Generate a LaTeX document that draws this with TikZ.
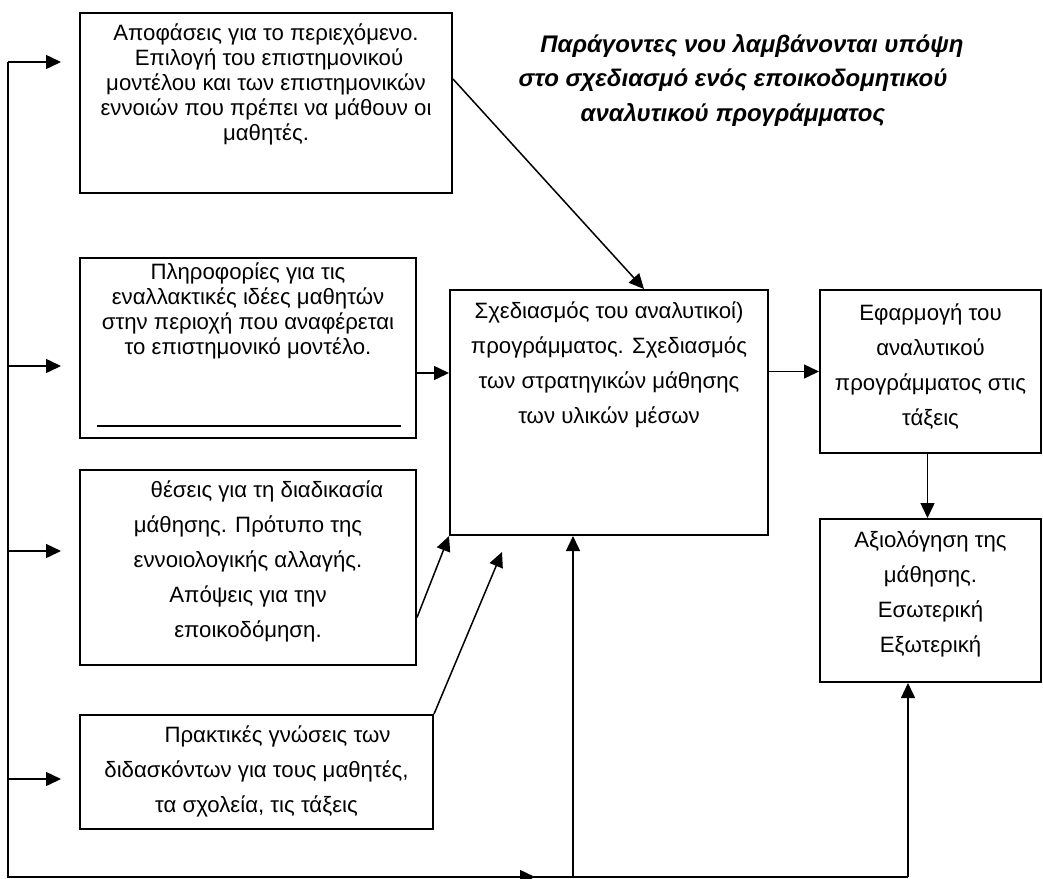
\documentclass[tikz,border=0pt]{standalone}
\usepackage{fontspec}
\setmainfont{Liberation Sans}
\usepackage{tikz}
\usetikzlibrary{arrows.meta, positioning}

\begin{document}
\begin{tikzpicture}[x=1pt, y=-1pt,
    box/.style={draw, line width=2pt, anchor=north west, inner sep=0pt},
    txt/.style={font=\fontsize{22.2}{25}\selectfont, align=center, inner sep=0pt, anchor=north,
                execute at begin node=\rule{0pt}{17pt}},
    txtw/.style={txt, font=\fontsize{22.2}{35}\selectfont},
    line/.style={line width=1.5pt},
    arr/.style={line, -{Triangle[length=15pt, width=14pt]}}]
  \useasboundingbox (0,0) rectangle (1043,878);
  % Title
  \node[txt, font=\fontsize{24}{34.5}\selectfont\bfseries\itshape] (title) at (733,34)
       {\hspace*{38pt}Παράγοντες νου λαμβάνονται υπόψη\\στο σχεδιασμό ενός εποικοδομητικού\\αναλυτικού προγράμματος};
  % Input boxes
  \node[box, minimum width=372pt, minimum height=180pt] (apof) at (79,12) {};
  \node[txt] (apoftxt) at ([yshift=-12pt]apof.north)
       {Αποφάσεις για το περιεχόμενο.\\\hspace*{6pt}Επιλογή του επιστημονικού\\μοντέλου και των επιστημονικών\\εννοιών που πρέπει να μάθουν οι\\μαθητές.};
  \node[box, minimum width=336pt, minimum height=180pt] (info) at (79,257) {};
  \node[txt] (infotxt) at ([yshift=-6pt]info.north)
       {Πληροφορίες για τις\\εναλλακτικές ιδέες μαθητών\\στην περιοχή που αναφέρεται\\το επιστημονικό μοντέλο.};
  \draw[line width=2pt] ([xshift=18pt, yshift=13pt]info.south west) -- ([xshift=-16pt, yshift=13pt]info.south east);
  \node[box, minimum width=336pt, minimum height=195pt] (thes) at (79,469) {};
  \node[txtw] (thestxt) at ([yshift=-12pt]thes.north)
       {\hspace*{38pt}θέσεις για τη διαδικασία\\μάθησης. Πρότυπο της\\εννοιολογικής αλλαγής.\\Απόψεις για την\\εποικοδόμηση.};
  \node[box, minimum width=353pt, minimum height=114pt] (gnos) at (79,714) {};
  \node[txtw] (gnostxt) at ([yshift=-12pt]gnos.north)
       {\hspace*{42pt}Πρακτικές γνώσεις των\\διδασκόντων για τους μαθητές,\\τα σχολεία, τις τάξεις};
  % Planning, implementation, evaluation
  \node[box, minimum width=318pt, minimum height=245pt] (plan) at (449,289) {};
  \node[txtw] (plantxt) at ([yshift=-13pt]plan.north)
       {Σχεδιασμός του αναλυτικοί)\\προγράμματος. Σχεδιασμός\\των στρατηγικών μάθησης\\των υλικών μέσων};
  \node[box, minimum width=221pt, minimum height=163pt] (impl) at (819,289) {};
  \node[txtw] (impltxt) at ([yshift=-15pt]impl.north)
       {Εφαρμογή του\\αναλυτικού\\προγράμματος στις\\τάξεις};
  \node[box, minimum width=221pt, minimum height=163pt] (eval) at (819,518) {};
  \node[txtw] (evaltxt) at ([yshift=-13pt]eval.north)
       {Αξιολόγηση της\\μάθησης.\\Εσωτερική\\Εξωτερική};
  % Arrows into the plan
  \draw[arr] ([yshift=24pt]apof.east) -- ([xshift=35pt]plan.north);
  \draw[arr] ([yshift=-25pt]info.east) -- ([yshift=-25pt]info.east -| plan.west);
  \draw[arr] ([yshift=-50pt]thes.east) -- (plan.south west);
  \coordinate (gnosend) at (502,552);
  \draw[arr] (gnos.north east) -- (gnosend);
  \draw[arr] (impl.west -| plan.east) -- (impl.west);
  \draw[arr] ([xshift=-3pt]impl.south) -- ([xshift=-3pt]eval.north);
  % Feedback loop
  \coordinate (fbtop) at (8,62);
  \coordinate (fbbot) at (8,877);
  \coordinate (fbmid) at (535,877);
  \coordinate (fbplan) at (573,877);
  \coordinate (fbend) at (908,877);
  \draw[line] (fbtop) -- (fbbot) -- (fbend);
  \draw[arr] (fbbot) -- (fbmid);
  \draw[arr] (fbplan) -- (fbplan |- plan.south);
  \draw[arr] (fbend) -- (fbend |- eval.south);
  \foreach \y/\n in {62/apof, 366/info, 551/thes, 779/gnos}
    \draw[arr, shorten >=18pt] (8,\y) -- (\n.west |- 0,\y);
\end{tikzpicture}
\end{document}
